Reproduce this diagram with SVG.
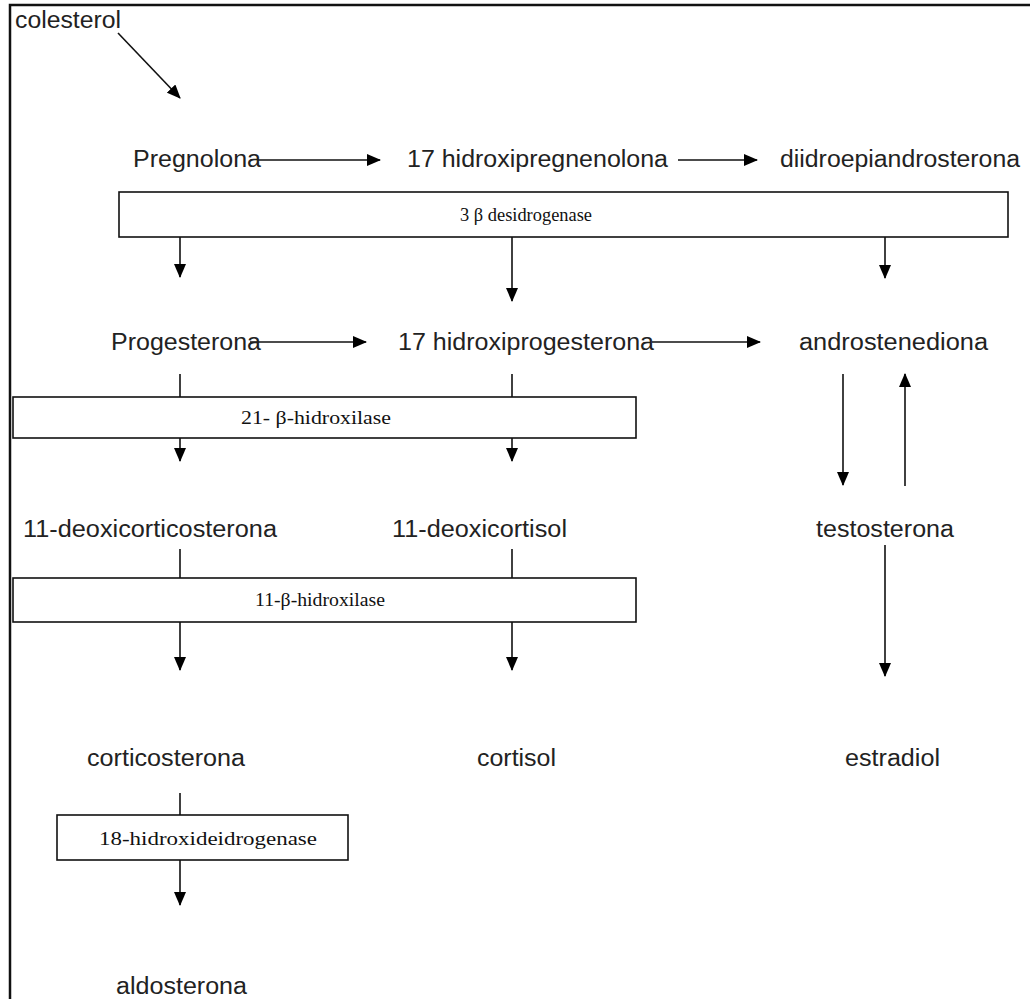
<svg xmlns="http://www.w3.org/2000/svg" width="1030" height="999" viewBox="0 0 1030 999">
<defs>
<marker id="ah" markerUnits="userSpaceOnUse" markerWidth="14" markerHeight="12" refX="13" refY="6" orient="auto">
<path d="M0,0 L14,6 L0,12 Z" fill="#000"/>
</marker>
</defs>
<style>
.t{font-family:"Liberation Sans",Arial,sans-serif;font-size:23px;fill:#222}
.b{font-family:"Liberation Serif","Times New Roman",serif;font-size:18px;fill:#111}
.box{fill:#fff;stroke:#111;stroke-width:1.6}
.c{stroke:#111;stroke-width:1.6;fill:none}
.a{stroke:#111;stroke-width:1.6;fill:none;marker-end:url(#ah)}
</style>
<rect width="1030" height="999" fill="#fff"/>
<path d="M10,999 L10,5 L1030,5" fill="none" stroke="#111" stroke-width="2.5"/>

<g id="connectors">
<line class="a" x1="118" y1="33" x2="180" y2="98"/>
<line class="a" x1="258" y1="160" x2="380" y2="160"/>
<line class="a" x1="678" y1="160" x2="757" y2="160"/>
<line class="a" x1="180" y1="237" x2="180" y2="277"/>
<line class="a" x1="512" y1="237" x2="512" y2="301"/>
<line class="a" x1="885" y1="237" x2="885" y2="278"/>
<line class="a" x1="250" y1="342" x2="366" y2="342"/>
<line class="a" x1="652" y1="342" x2="760" y2="342"/>
<line class="c" x1="180" y1="374" x2="180" y2="397"/>
<line class="c" x1="512" y1="374" x2="512" y2="397"/>
<line class="a" x1="180" y1="438" x2="180" y2="461"/>
<line class="a" x1="512" y1="438" x2="512" y2="461"/>
<line class="c" x1="180" y1="549" x2="180" y2="578"/>
<line class="c" x1="512" y1="549" x2="512" y2="578"/>
<line class="a" x1="180" y1="622" x2="180" y2="670"/>
<line class="a" x1="512" y1="622" x2="512" y2="670"/>
<line class="a" x1="843" y1="374" x2="843" y2="485"/>
<line class="a" x1="905" y1="486" x2="905" y2="374"/>
<line class="a" x1="885" y1="545" x2="885" y2="676"/>
<line class="c" x1="180" y1="793" x2="180" y2="815"/>
<line class="a" x1="180" y1="860" x2="180" y2="905"/>
</g>

<g id="colesterol"><text class="t" x="15" y="28" textLength="106" lengthAdjust="spacingAndGlyphs">colesterol</text></g>
<g id="pregnolona"><text class="t" x="133" y="167" textLength="128" lengthAdjust="spacingAndGlyphs">Pregnolona</text></g>
<g id="hidroxipregnenolona"><text class="t" x="407" y="167" textLength="261" lengthAdjust="spacingAndGlyphs">17 hidroxipregnenolona</text></g>
<g id="diidroepiandrosterona"><text class="t" x="780" y="167" textLength="240" lengthAdjust="spacingAndGlyphs">diidroepiandrosterona</text></g>

<g id="desidrogenase"><rect class="box" x="119" y="192" width="889" height="45"/><text class="b" x="526" y="221" text-anchor="middle" textLength="132" lengthAdjust="spacingAndGlyphs">3 β desidrogenase</text></g>

<g id="progesterona"><text class="t" x="111" y="350" textLength="150" lengthAdjust="spacingAndGlyphs">Progesterona</text></g>
<g id="hidroxiprogesterona"><text class="t" x="398" y="350" textLength="256" lengthAdjust="spacingAndGlyphs">17 hidroxiprogesterona</text></g>
<g id="androstenediona"><text class="t" x="799" y="350" textLength="189" lengthAdjust="spacingAndGlyphs">androstenediona</text></g>

<g id="hidroxilase21"><rect class="box" x="13" y="397" width="623" height="41"/><text class="b" x="316" y="424" text-anchor="middle" textLength="150" lengthAdjust="spacingAndGlyphs">21- β-hidroxilase</text></g>

<g id="deoxicorticosterona"><text class="t" x="23" y="537" textLength="254" lengthAdjust="spacingAndGlyphs">11-deoxicorticosterona</text></g>
<g id="deoxicortisol"><text class="t" x="392" y="537" textLength="175" lengthAdjust="spacingAndGlyphs">11-deoxicortisol</text></g>
<g id="testosterona"><text class="t" x="816" y="537" textLength="138" lengthAdjust="spacingAndGlyphs">testosterona</text></g>

<g id="hidroxilase11"><rect class="box" x="13" y="578" width="623" height="44"/><text class="b" x="320" y="606" text-anchor="middle" textLength="130" lengthAdjust="spacingAndGlyphs">11-β-hidroxilase</text></g>

<g id="corticosterona"><text class="t" x="87" y="766" textLength="158" lengthAdjust="spacingAndGlyphs">corticosterona</text></g>
<g id="cortisol"><text class="t" x="477" y="766" textLength="79" lengthAdjust="spacingAndGlyphs">cortisol</text></g>
<g id="estradiol"><text class="t" x="845" y="766" textLength="95" lengthAdjust="spacingAndGlyphs">estradiol</text></g>

<g id="hidroxideidrogenase"><rect class="box" x="57" y="815" width="291" height="45"/><text class="b" x="208" y="845" text-anchor="middle" textLength="218" lengthAdjust="spacingAndGlyphs">18-hidroxideidrogenase</text></g>

<g id="aldosterona"><text class="t" x="116" y="994" textLength="131" lengthAdjust="spacingAndGlyphs">aldosterona</text></g>
</svg>
